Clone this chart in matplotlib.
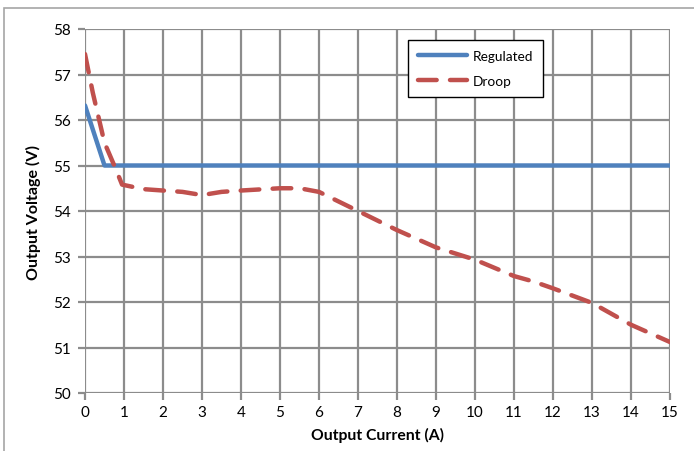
import matplotlib
matplotlib.use("Agg")
import matplotlib.pyplot as plt
from matplotlib.patches import Rectangle

plt.rcParams['font.family'] = ['Lato', 'DejaVu Sans']

# Data
reg_x = [0, 0.5, 15]
reg_y = [56.32, 55.0, 55.0]

droop_x = [0, 0.2, 0.5, 0.8, 0.95, 1.5, 2, 2.5, 3, 3.5, 4, 5, 5.5, 6, 7, 8, 9, 10, 11, 11.5, 12, 13, 14, 15]
droop_y = [57.45, 56.6, 55.5, 54.9, 54.58, 54.48, 54.45, 54.42, 54.35, 54.42, 54.45, 54.5, 54.5, 54.42,
           54.0, 53.58, 53.2, 52.93, 52.57, 52.45, 52.3, 51.98, 51.5, 51.12]

x_ticks = list(range(0, 16))
y_ticks = list(range(50, 59))

fig = plt.figure(figsize=(6.94, 4.52), dpi=100)
ax = fig.add_axes([85/694, 1-394/452, (670-85)/694, (394-30)/452])

grid_c = '#8c8c8c'
ax.plot(reg_x, reg_y, color='#4f81bd', lw=3.2, solid_capstyle='round', label='Regulated', zorder=3)
ax.plot(droop_x, droop_y, color='#c0504d', lw=3.2, dashes=(4.2, 3.0), dash_capstyle='round',
        label='Droop', zorder=3)

ax.set_xlim(0, 15)
ax.set_ylim(50, 58)
ax.set_xticks(x_ticks)
ax.set_yticks(y_ticks)
ax.grid(True, color=grid_c, lw=1.6)
for s in ax.spines.values():
    s.set_visible(False)
ax.tick_params(axis='both', colors=grid_c, width=1.6, length=5, labelsize=11,
               labelcolor='black', pad=4)
ax.tick_params(axis='y', pad=5)

ax.set_xlabel('Output Current (A)', fontsize=11.3, fontweight='bold', labelpad=5)
ax.set_ylabel('Output Voltage (V)', fontsize=11.5, fontweight='bold', labelpad=9)

leg = ax.legend(loc='upper left', bbox_to_anchor=((408-85)/585, 1-(41-30)/364),
                frameon=True, fancybox=False, fontsize=9.8, handlelength=3.6,
                borderpad=0.75, labelspacing=0.95, handletextpad=0.4, borderaxespad=0)
leg.get_frame().set_edgecolor('black')
leg.get_frame().set_linewidth(1.0)
leg.get_frame().set_alpha(1)

fig.add_artist(Rectangle((4/694, -0.05), 1.0, (1-9/452)+0.05, transform=fig.transFigure,
                         fill=False, ec='#a6a6a6', lw=1.2))

fig.savefig('out.png', dpi=100)
